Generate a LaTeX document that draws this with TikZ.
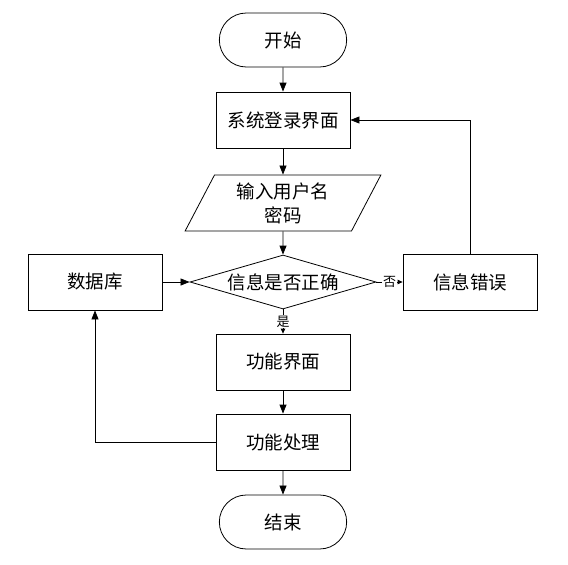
\documentclass[tikz,border=0pt]{standalone}
\usepackage{fontspec}
\usepackage{tikz}
\usetikzlibrary{arrows.meta,shapes.geometric,shapes.misc}
\newfontfamily\cjk{Noto Sans CJK SC}
\newcommand{\BoxFont}{\cjk\fontsize{18.5}{24}\selectfont}
\newcommand{\TagFont}{\cjk\fontsize{13}{15}\selectfont}

\begin{document}
\begin{tikzpicture}[x=1pt,y=-1pt,line width=0.8pt,
    proc/.style={draw,rectangle,minimum width=134pt,minimum height=56pt,font=\BoxFont},
    term/.style={draw,rounded rectangle,minimum width=134pt,minimum height=54pt,font=\BoxFont},
    io/.style={draw,trapezium,trapezium left angle=66,trapezium right angle=114,
      trapezium stretches=true,minimum width=196pt,minimum height=56pt,align=center,font=\BoxFont},
    dec/.style={draw,diamond,aspect=3.44,inner sep=0pt,minimum width=186pt,minimum height=54pt,font=\BoxFont},
    flow/.style={-{Triangle[length=9pt,width=7pt]}},
    tip/.style={-{Triangle[length=5pt,width=4.5pt]}},
    tag/.style={fill=white,inner sep=1pt,font=\TagFont}]
  \useasboundingbox (0,0) rectangle (568,565);
  % main column
  \node[term] (start) at (283,40) {开始};
  \node[proc] (login) at (283,120) {系统登录界面};
  \node[io] (input) at (283,203) {输入用户名\\密码};
  \node[dec] (check) at (283,282) {信息是否正确};
  \node[proc] (menu) at (283,362) {功能界面};
  \node[proc] (work) at (283,442) {功能处理};
  \node[term] (stop) at (283,522) {结束};
  % side boxes
  \node[proc] (db) at (95,282) {数据库};
  \node[proc] (err) at (470,282) {信息错误};

  \draw[flow] (start) -- (login);
  \draw[flow] (login) -- (input);
  \draw[flow] (input) -- (check);
  \draw[flow] (db) -- (check);
  \draw[tip] (check) -- node[tag] {否} (err);
  \draw[tip] (check) -- node[tag] {是} (menu);
  \draw[flow] (err.north) |- (login.east);
  \draw[flow] (menu) -- (work);
  \draw[flow] (work.west) -| (db.south);
  \draw[flow] (work) -- (stop);
\end{tikzpicture}
\end{document}
